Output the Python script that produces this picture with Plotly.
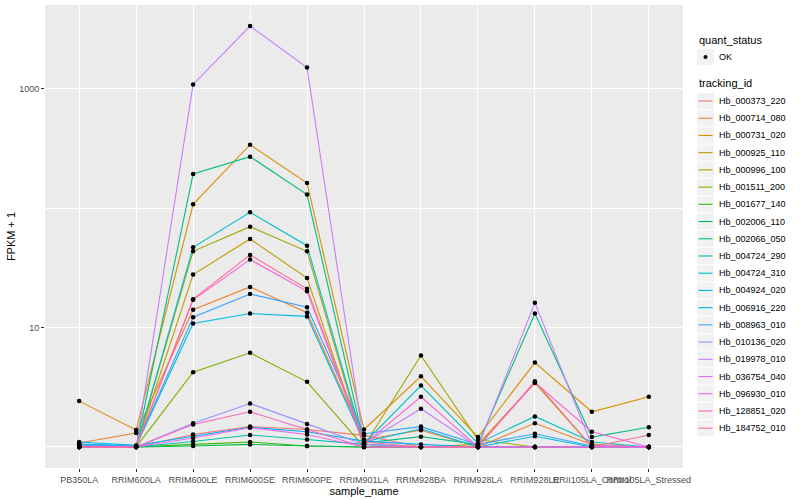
import plotly.graph_objects as go
import numpy as np

samples = ["PB350LA", "RRIM600LA", "RRIM600LE", "RRIM600SE", "RRIM600PE", "RRIM901LA",
           "RRIM928BA", "RRIM928LA", "RRIM928LE", "RRII105LA_Control", "RRII105LA_Stressed"]

tracking_ids = ["Hb_000373_220", "Hb_000714_080", "Hb_000731_020", "Hb_000925_110", "Hb_000996_100",
                "Hb_001511_200", "Hb_001677_140", "Hb_002006_110", "Hb_002066_050", "Hb_004724_290",
                "Hb_004724_310", "Hb_004924_020", "Hb_006916_220", "Hb_008963_010", "Hb_010136_020",
                "Hb_019978_010", "Hb_036754_040", "Hb_096930_010", "Hb_128851_020", "Hb_184752_010"]

colors = ["#F8766D", "#EA8331", "#D89000", "#C09B00", "#A3A500", "#7CAE00", "#39B600", "#00BB4E",
          "#00BF7D", "#00C1A3", "#00BFC4", "#00BAE0", "#00B0F6", "#35A2FF", "#9590FF", "#C77CFF",
          "#E76BF3", "#FA62DB", "#FF62BC", "#FF6C91"]

# FPKM + 1 values per gene, in sample order
Hb_000373_220 = [1.05, 1.0, 1.27, 1.48, 1.40, 1.25, 1.0, 1.0, 1.0, 1.0, 1.0]
Hb_000714_080 = [1.08, 1.31, 14.1, 21.9, 13.3, 1.15, 1.38, 1.0, 1.58, 1.05, 1.0]
Hb_000731_020 = [2.42, 1.39, 107.7, 340, 162.5, 1.40, 3.91, 1.21, 5.09, 1.97, 2.63]
Hb_000925_110 = [1.0, 1.0, 27.8, 55.2, 26.0, 1.0, 1.0, 1.05, 3.44, 1.0, 1.0]
Hb_000996_100 = [1.0, 1.0, 43.5, 70.0, 43.5, 1.02, 5.83, 1.15, 1.0, 1.0, 1.0]
Hb_001511_200 = [1.0, 1.0, 4.23, 6.14, 3.51, 1.0, 1.0, 1.0, 1.0, 1.0, 1.0]
Hb_001677_140 = [1.0, 1.0, 1.05, 1.10, 1.02, 1.0, 1.0, 1.0, 1.0, 1.0, 1.0]
Hb_002006_110 = [1.0, 1.0, 1.02, 1.05, 1.02, 1.0, 1.0, 1.0, 1.0, 1.0, 1.0]
Hb_002066_050 = [1.0, 1.0, 193, 270, 130, 1.08, 1.22, 1.05, 13.1, 1.21, 1.46]
Hb_004724_290 = [1.0, 1.0, 1.11, 1.26, 1.155, 1.05, 1.0, 1.0, 1.0, 1.0, 1.0]
Hb_004724_310 = [1.02, 1.0, 47.0, 92.2, 48.5, 1.07, 3.27, 1.07, 1.80, 1.10, 1.0]
Hb_004924_020 = [1.06, 1.02, 10.8, 13.1, 12.4, 1.1, 1.42, 1.0, 1.23, 1.0, 1.0]
Hb_006916_220 = [1.1, 1.03, 1.23, 1.46, 1.34, 1.12, 1.05, 1.0, 1.0, 1.0, 1.0]
Hb_008963_010 = [1.04, 1.02, 12.2, 19.1, 14.8, 1.29, 1.48, 1.05, 1.29, 1.02, 1.0]
Hb_010136_020 = [1.0, 1.0, 1.58, 2.31, 1.56, 1.05, 1.0, 1.0, 1.0, 1.0, 1.0]
Hb_019978_010 = [1.0, 1.0, 1086, 3350, 1507, 1.07, 2.09, 1.0, 16.1, 1.03, 1.0]
Hb_036754_040 = [1.0, 1.0, 1.19, 1.45, 1.27, 1.0, 1.0, 1.0, 1.0, 1.0, 1.0]
Hb_096930_010 = [1.0, 1.0, 17.1, 37.1, 20.1, 1.05, 2.63, 1.0, 3.46, 1.34, 1.0]
Hb_128851_020 = [1.0, 1.0, 1.54, 1.97, 1.40, 1.0, 1.0, 1.0, 1.0, 1.0, 1.0]
Hb_184752_010 = [1.0, 1.0, 17.3, 40.6, 21.1, 1.1, 1.0, 1.0, 3.55, 1.0, 1.26]

series = [Hb_000373_220, Hb_000714_080, Hb_000731_020, Hb_000925_110, Hb_000996_100,
          Hb_001511_200, Hb_001677_140, Hb_002006_110, Hb_002066_050, Hb_004724_290,
          Hb_004724_310, Hb_004924_020, Hb_006916_220, Hb_008963_010, Hb_010136_020,
          Hb_019978_010, Hb_036754_040, Hb_096930_010, Hb_128851_020, Hb_184752_010]

quant_status = ["OK"]

y_tick_vals = [10, 1000]
y_tick_text = ["10", "1000"]
y_minor_vals = [1, 100]

FONT = "Liberation Sans, Arial, sans-serif"

W, H = 800, 500
ML, MR, MT, MB = 45, 117, 5, 32
PW, PH = W - ML - MR, H - MT - MB


def px(x):
    return (x - ML) / PW


def py(y):
    return 1 - (y - MT) / PH


fig = go.Figure()
for tid, vals, col in zip(tracking_ids, series, colors):
    fig.add_trace(go.Scatter(
        x=samples, y=vals, mode="lines", name=tid,
        line=dict(color=col, width=1.1),
        hoverinfo="skip", showlegend=False,
    ))

all_x = [s for vals in series for s in samples]
all_y = [v for vals in series for v in vals]
fig.add_trace(go.Scatter(
    x=all_x, y=all_y, mode="markers", name=quant_status[0],
    marker=dict(color="black", size=4.5),
    hoverinfo="skip", showlegend=False,
))

lo = np.log10(min(all_y))
hi = np.log10(max(all_y))
pad = 0.05 * (hi - lo)

# ---- ggplot-like legend built from the names above ----
shapes = []
annotations = []
key_x0, key_w = 697, 17
text_x = 717
annotations.append(dict(x=px(key_x0), y=py(40), xref="paper", yref="paper", text="quant_status",
                        showarrow=False, xanchor="left", yanchor="middle",
                        font=dict(size=11, color="black")))
for k, q in enumerate(quant_status):
    cy = 57 + 17.2 * k
    shapes.append(dict(type="rect", xref="paper", yref="paper",
                       x0=px(key_x0), x1=px(key_x0 + key_w), y0=py(cy + 8.1), y1=py(cy - 8.1),
                       fillcolor="#F2F2F2", line=dict(width=0), layer="below"))
    shapes.append(dict(type="circle", xref="paper", yref="paper",
                       x0=px(key_x0 + 8.5 - 2), x1=px(key_x0 + 8.5 + 2), y0=py(cy + 2), y1=py(cy - 2),
                       fillcolor="black", line=dict(width=0)))
    annotations.append(dict(x=px(text_x), y=py(cy), xref="paper", yref="paper", text=q,
                            showarrow=False, xanchor="left", yanchor="middle",
                            font=dict(size=9, color="black")))

annotations.append(dict(x=px(key_x0), y=py(83), xref="paper", yref="paper", text="tracking_id",
                        showarrow=False, xanchor="left", yanchor="middle",
                        font=dict(size=11, color="black")))
for k, (tid, col) in enumerate(zip(tracking_ids, colors)):
    cy = 101 + 17.22 * k
    shapes.append(dict(type="rect", xref="paper", yref="paper",
                       x0=px(key_x0), x1=px(key_x0 + key_w), y0=py(cy + 8.1), y1=py(cy - 8.1),
                       fillcolor="#F2F2F2", line=dict(width=0), layer="below"))
    shapes.append(dict(type="line", xref="paper", yref="paper",
                       x0=px(key_x0 + 1.5), x1=px(key_x0 + key_w - 1.5), y0=py(cy), y1=py(cy),
                       line=dict(color=col, width=1.1)))
    annotations.append(dict(x=px(text_x), y=py(cy), xref="paper", yref="paper", text=tid,
                            showarrow=False, xanchor="left", yanchor="middle",
                            font=dict(size=9, color="black")))

fig.update_layout(
    width=W, height=H,
    margin=dict(l=ML, r=MR, t=MT, b=MB, autoexpand=False),
    paper_bgcolor="white",
    plot_bgcolor="#EBEBEB",
    font=dict(family=FONT, size=9, color="#4D4D4D"),
    showlegend=False,
    shapes=shapes,
    annotations=annotations,
    xaxis=dict(
        type="category", categoryorder="array", categoryarray=samples,
        range=[-0.6, len(samples) - 0.4],
        showgrid=True, gridcolor="white", gridwidth=1.1,
        ticks="outside", ticklen=3, tickcolor="#333333", tickwidth=1,
        tickangle=0, tickfont=dict(size=9, color="#4D4D4D"),
        zeroline=False, showline=False,
        title=dict(text="sample_name", font=dict(size=11, color="black"), standoff=0),
    ),
    yaxis=dict(
        type="log", range=[lo - pad, hi + pad],
        tickmode="array", tickvals=y_tick_vals, ticktext=y_tick_text,
        showgrid=True, gridcolor="white", gridwidth=1.1,
        minor=dict(tickmode="array", tickvals=y_minor_vals, showgrid=True,
                   gridcolor="white", gridwidth=0.55, ticks=""),
        ticks="outside", ticklen=3, tickcolor="#333333", tickwidth=1,
        tickfont=dict(size=9, color="#4D4D4D"),
        zeroline=False, showline=False,
        title=dict(text="FPKM + 1", font=dict(size=11, color="black"), standoff=1),
    ),
)

fig.write_html("out.html", config={"displayModeBar": False},
               post_script="document.body.style.margin='0';")
